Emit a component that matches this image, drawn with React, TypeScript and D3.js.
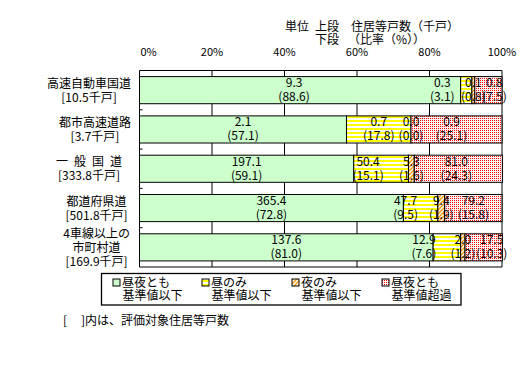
import React from "react";
import * as d3 from "d3";

const categories = [
  ["高速自動車国道", "[10.5千戸]"],
  ["都市高速道路", "[3.7千戸]"],
  ["一\u2002般\u2002国\u2002道", "[333.8千戸]"],
  ["都道府県道", "[501.8千戸]"],
  ["4車線以上の", "市町村道", "[169.9千戸]"],
];
const seriesNames = [
  ["昼夜とも", "基準値以下"],
  ["昼のみ", "基準値以下"],
  ["夜のみ", "基準値以下"],
  ["昼夜とも", "基準値超過"],
];
// counts (千戸)
const countDayNightBelow = ["9.3", "2.1", "197.1", "365.4", "137.6"];
const countDayOnly = ["0.3", "0.7", "50.4", "47.7", "12.9"];
const countNightOnly = ["0.1", "0.0", "5.3", "9.4", "2.0"];
const countBothOver = ["0.8", "0.9", "81.0", "79.2", "17.5"];
// shares (%)
const pctDayNightBelow = [88.6, 57.1, 59.1, 72.8, 81.0];
const pctDayOnly = [3.1, 17.8, 15.1, 9.5, 7.6];
const pctNightOnly = [0.8, 0.0, 1.6, 1.9, 1.2];
const pctBothOver = [7.5, 25.1, 24.3, 15.8, 10.3];
const tickValues = [0, 20, 40, 60, 80, 100];

// label nudges (px) per series per row, layout only
const labelNudge = [
  [-6, 0, 0, 0, 0],
  [-24, 0, -13, -15, -23],
  [0, 0, 0, 0, 0],
  [6, -5, -2, 0, 8],
];

const FONT = "'Noto Sans CJK JP', 'Noto Sans', sans-serif";

export default function App() {
  const x0 = 139.5, x1 = 502;
  const y0 = 70.5, y1 = 267;
  const x = d3.scaleLinear().domain([0, 100]).range([x0, x1]);
  const y = d3
    .scaleBand<number>()
    .domain(d3.range(categories.length))
    .range([y0, y1])
    .paddingInner(0.31)
    .paddingOuter(0.155);

  const pcts = [pctDayNightBelow, pctDayOnly, pctNightOnly, pctBothOver];
  const counts = [countDayNightBelow, countDayOnly, countNightOnly, countBothOver];
  const fills = ["#CCFFCC", "url(#yStripe)", "url(#oHatch)", "url(#rDots)"];

  const stack = d3
    .stack<number, number>()
    .keys([0, 1, 2, 3])
    .value((i, k) => pcts[k][i])(d3.range(categories.length));

  const step = y.step();
  const estW = (s: string) =>
    Array.from(s).reduce((a, c) => a + (c.charCodeAt(0) > 0x2000 ? 12 : 6.4), 0);

  return (
    <svg width={528} height={367} style={{ position: "absolute", left: 0, top: 0 }} fontFamily={FONT}>
      <defs>
        <pattern id="yStripe" width={4} height={4} patternUnits="userSpaceOnUse">
          <rect width={4} height={4} fill="#fff" />
          <rect width={4} height={2} fill="#FFFF00" />
        </pattern>
        <pattern id="oHatch" width={4} height={4} patternUnits="userSpaceOnUse">
          <rect width={4} height={4} fill="#fff" />
          <path d="M-1,1 L1,-1 M0,4 L4,0 M3,5 L5,3" stroke="#FF9900" strokeWidth={1.3} />
        </pattern>
        <pattern id="rDots" width={2} height={2} patternUnits="userSpaceOnUse">
          <rect width={2} height={2} fill="#FFF4F4" />
          <rect width={1} height={1} fill="#FF0000" />
        </pattern>
      </defs>
      <rect width={528} height={367} fill="#fff" />

      {/* header */}
      <g fontSize={12} fill="#000">
        <text x={285} y={31}>単位</text>
        <text x={315} y={31}>上段</text>
        <text x={351} y={31}>住居等戸数（千戸）</text>
        <text x={315} y={44}>下段</text>
        <text x={348} y={44}>（比率（%））</text>
      </g>

      {/* ticks */}
      <g fontSize={11} fill="#000">
        {tickValues.map((t) => (
          <text key={t} x={t === 0 ? x(t) + 1 : x(t)} y={56} textAnchor={t === 0 ? "start" : "middle"}>
            {t}%
          </text>
        ))}
      </g>

      {/* grid */}
      {tickValues.map((t) => (
        <line key={t} x1={x(t)} x2={x(t)} y1={y0} y2={y1} stroke="#000" strokeWidth={1} />
      ))}
      <line x1={x0} x2={x1} y1={y0} y2={y0} stroke="#000" />
      <line x1={x0} x2={x1} y1={y1} y2={y1} stroke="#000" />
      {d3.range(1, categories.length).map((k) => (
        <line key={k} x1={x0} x2={x0 + 3} y1={y0 + step * k} y2={y0 + step * k} stroke="#000" />
      ))}

      {/* bars */}
      {stack.map((layer, k) =>
        layer.map((d, i) => (
          <rect
            key={`${k}-${i}`}
            x={x(d[0])}
            y={y(i)!}
            width={Math.max(0, x(d[1]) - x(d[0]))}
            height={y.bandwidth()}
            fill={fills[k]}
            stroke="#000"
            strokeWidth={1}
          />
        ))
      )}

      {/* data labels */}
      <g fontSize={12} fill="#000" textAnchor="middle">
        {stack.map((layer, k) =>
          layer.map((d, i) => {
            const cx = (x(d[0]) + x(d[1])) / 2 + labelNudge[k][i];
            const cy = y(i)! + y.bandwidth() / 2;
            return (
              <g key={`l${k}-${i}`}>
                <text x={cx} y={cy - 3}>{counts[k][i]}</text>
                <text x={cx} y={cy + 11}>({pcts[k][i].toFixed(1)})</text>
              </g>
            );
          })
        )}
      </g>

      {/* category labels */}
      <g fontSize={12} fill="#000" textAnchor="middle">
        {categories.map((lines, i) => {
          const maxW = Math.max(...lines.map(estW));
          const cx = 131 - maxW / 2;
          const cy = y(i)! + y.bandwidth() / 2;
          return lines.map((ln, j) => (
            <text key={`c${i}-${j}`} x={cx} y={cy + (j - (lines.length - 1) / 2) * 14 + 4.5}>
              {ln}
            </text>
          ));
        })}
      </g>

      {/* legend */}
      <rect x={101.5} y={273.5} width={359.5} height={31.5} fill="#fff" stroke="#000" strokeWidth={1.3} />
      {seriesNames.map((nm, k) => {
        const lx = [113, 202, 292, 382][k];
        return (
          <g key={`lg${k}`} fontSize={12} fill="#000">
            <rect x={lx} y={279} width={7} height={7} fill={fills[k]} stroke="#000" strokeWidth={1} />
            <text x={lx + 9} y={286.5}>{nm[0]}</text>
            <text x={lx + 9.5} y={299.5}>{nm[1]}</text>
          </g>
        );
      })}

      {/* footnote */}
      <g fontSize={12} fill="#000">
        <text x={63} y={324.5}>[</text>
        <text x={81} y={324.5}>]内は、評価対象住居等戸数</text>
      </g>
    </svg>
  );
}
